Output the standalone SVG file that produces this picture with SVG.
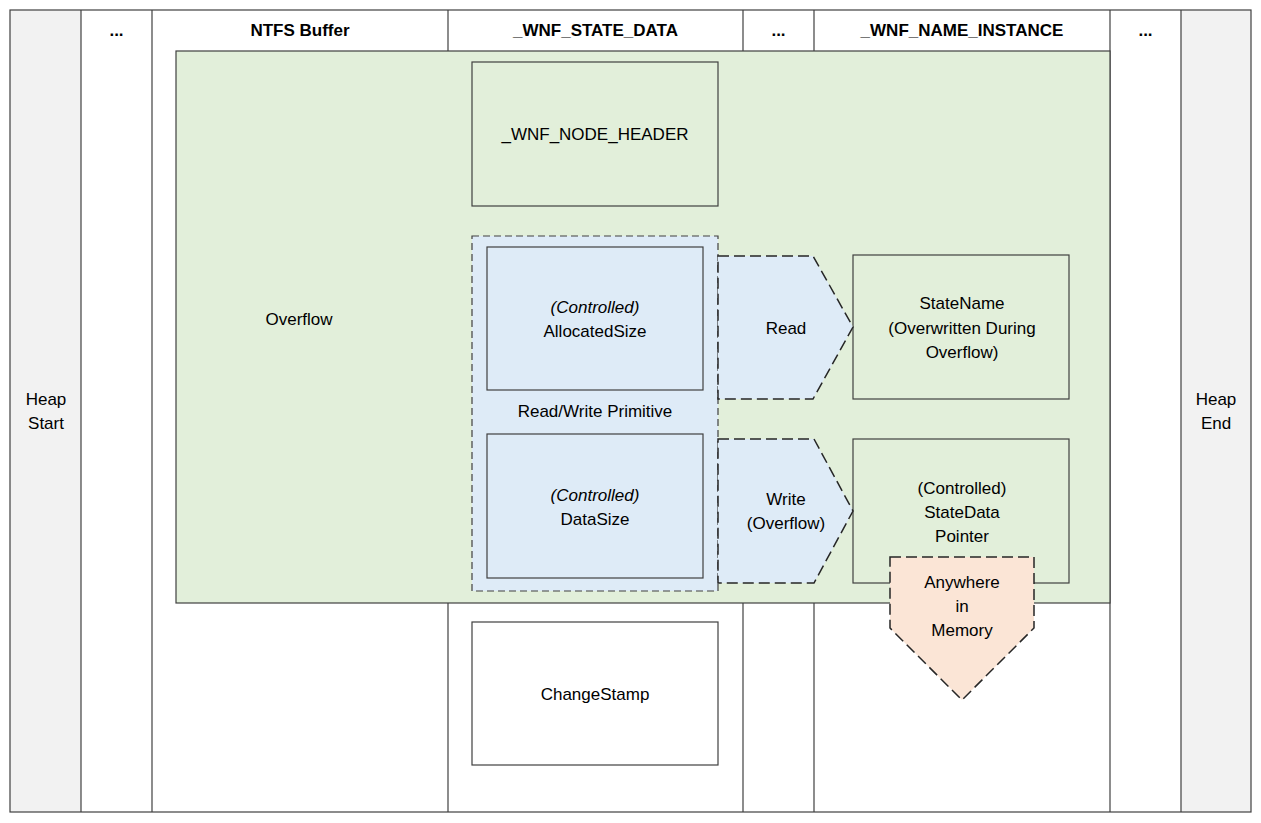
<svg xmlns="http://www.w3.org/2000/svg" width="1261" height="823" viewBox="0 0 1261 823">
<style>
text{font-family:"Liberation Sans",Arial,sans-serif;font-size:17px;fill:#000;text-anchor:middle}
.b{font-weight:bold}
.i{font-style:italic}
.ln{stroke:#404040;stroke-width:1.2;fill:none}
.box{stroke:#404040;stroke-width:1.2}
.green{fill:#E2EFDA}
.blue{fill:#DEEBF7}
.gray{fill:#F2F2F2}
.dashc{stroke:#404040;stroke-width:1.2;stroke-dasharray:7,4}
.dasha{stroke:#262626;stroke-width:1.5;stroke-dasharray:11,5}
</style>
<rect x="0" y="0" width="1261" height="823" fill="#FFFFFF"/>
<g id="frame">
<rect x="10" y="10" width="71" height="802" class="gray"/>
<rect x="1181" y="10" width="70" height="802" class="gray"/>
<rect x="10" y="10" width="1241" height="802" class="ln"/>
<line x1="81" y1="10" x2="81" y2="812" class="ln"/>
<line x1="152" y1="10" x2="152" y2="812" class="ln"/>
<line x1="448" y1="10" x2="448" y2="812" class="ln"/>
<line x1="743" y1="10" x2="743" y2="812" class="ln"/>
<line x1="814" y1="10" x2="814" y2="812" class="ln"/>
<line x1="1110" y1="10" x2="1110" y2="812" class="ln"/>
<line x1="1181" y1="10" x2="1181" y2="812" class="ln"/>
</g>
<g id="heap-start"><text x="46" y="405">Heap</text><text x="46" y="429">Start</text></g>
<g id="heap-end"><text x="1216" y="405">Heap</text><text x="1216" y="429">End</text></g>
<g id="hdr-dots1"><text class="b" x="116.5" y="36">...</text></g>
<g id="hdr-ntfs"><text class="b" x="300" y="36">NTFS Buffer</text></g>
<g id="hdr-state"><text class="b" x="595.5" y="36">_WNF_STATE_DATA</text></g>
<g id="hdr-dots2"><text class="b" x="778.5" y="36">...</text></g>
<g id="hdr-name"><text class="b" x="962" y="36">_WNF_NAME_INSTANCE</text></g>
<g id="hdr-dots3"><text class="b" x="1145.5" y="36">...</text></g>
<g id="overflow">
<rect x="176" y="51" width="934" height="552" class="green box"/>
<text x="299" y="325">Overflow</text>
</g>
<g id="node-header">
<rect x="472" y="62" width="246" height="144" class="green box"/>
<text x="595" y="140">_WNF_NODE_HEADER</text>
</g>
<g id="rw-primitive">
<rect x="472" y="236" width="246" height="355" class="blue dashc"/>
<text x="595" y="417">Read/Write Primitive</text>
</g>
<g id="allocated-size">
<rect x="487" y="247" width="216" height="143" class="blue box"/>
<text class="i" x="595" y="313">(Controlled)</text>
<text x="595" y="337">AllocatedSize</text>
</g>
<g id="data-size">
<rect x="487" y="434" width="216" height="144" class="blue box"/>
<text class="i" x="595" y="501">(Controlled)</text>
<text x="595" y="525">DataSize</text>
</g>
<g id="state-name">
<rect x="853" y="255" width="216" height="144" class="green box"/>
<text x="962" y="309">StateName</text>
<text x="962" y="334">(Overwritten During</text>
<text x="962" y="358">Overflow)</text>
</g>
<g id="state-data">
<rect x="853" y="439" width="216" height="144" class="green box"/>
<text x="962" y="494">(Controlled)</text>
<text x="962" y="518">StateData</text>
<text x="962" y="542">Pointer</text>
</g>
<g id="change-stamp">
<rect x="472" y="622" width="246" height="143" fill="#FFFFFF" class="box"/>
<text x="595" y="700">ChangeStamp</text>
</g>
<g id="connectors">
<g id="read-arrow">
<polygon points="718,256 813,256 853,327 813,399 718,399" class="blue dasha"/>
<text x="786" y="334">Read</text>
</g>
<g id="write-arrow">
<polygon points="718,439 814,439 853,511 814,583 718,583" class="blue dasha"/>
<text x="786" y="505">Write</text>
<text x="786" y="529">(Overflow)</text>
</g>
<g id="anywhere-arrow">
<polygon points="890,557 1034,557 1034,628 962,700 890,628" fill="#FBE5D6" class="dasha"/>
<text x="962" y="588">Anywhere</text>
<text x="962" y="612">in</text>
<text x="962" y="636">Memory</text>
</g>
</g>
</svg>
